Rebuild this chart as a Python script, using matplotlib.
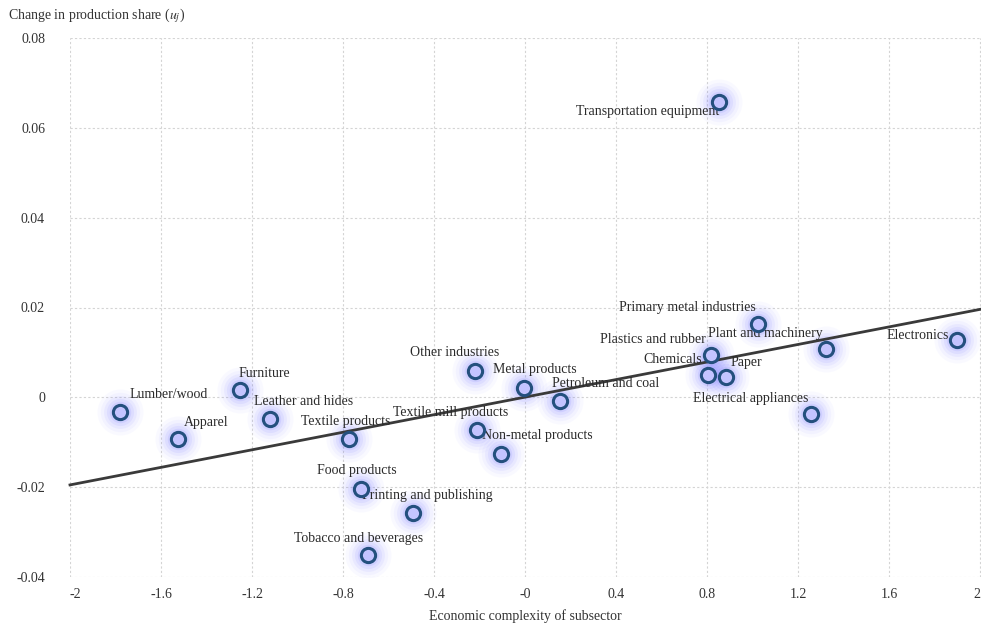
import numpy as np
import matplotlib
matplotlib.use("Agg")
import matplotlib.pyplot as plt

plt.rcParams['font.family'] = ['Liberation Serif', 'DejaVu Serif']
plt.rcParams['mathtext.fontset'] = 'stix'

# subsector: economic complexity vs change in production share
sectors = [
    "Transportation equipment", "Primary metal industries", "Plant and machinery",
    "Electronics", "Plastics and rubber", "Chemicals", "Paper",
    "Electrical appliances", "Metal products", "Petroleum and coal",
    "Other industries", "Textile mill products", "Non-metal products",
    "Textile products", "Food products", "Printing and publishing",
    "Tobacco and beverages", "Lumber/wood", "Apparel", "Furniture",
    "Leather and hides",
]
complexity = [0.853, 1.024, 1.323, 1.899, 0.818, 0.804, 0.884, 1.257, -0.004, 0.154,
              -0.220, -0.211, -0.105, -0.774, -0.721, -0.492, -0.690, -1.780, -1.525,
              -1.253, -1.121]
share_change = [0.0657, 0.0164, 0.0108, 0.0128, 0.0094, 0.0050, 0.0045, -0.0037, 0.0021,
                -0.0009, 0.0059, -0.0073, -0.0126, -0.0093, -0.0204, -0.0258, -0.0352,
                -0.0032, -0.0093, 0.0016, -0.0048]

# fitted trend line endpoints
fit_x = [-2.0, 2.0]
fit_y = [-0.0195, 0.0196]

xticks = [-2, -1.6, -1.2, -0.8, -0.4, 0, 0.4, 0.8, 1.2, 1.6, 2]
xticklabels = ["-2", "-1.6", "-1.2", "-0.8", "-0.4", "-0", "0.4", "0.8", "1.2", "1.6", "2"]
yticks = [-0.04, -0.02, 0, 0.02, 0.04, 0.06, 0.08]
yticklabels = ["-0.04", "-0.02", "0", "0.02", "0.04", "0.06", "0.08"]

# label offsets in pixels (text centre relative to the point)
label_offsets = [(-72, -9), (-71, 16), (-61, 15), (-40, 4), (-58, 16), (-35, 15), (20, 15),
                 (-61, 15), (11, 18), (45, 18), (-20, 18), (-27, 18), (36, 18), (-3, 18),
                 (-4, 18), (14, 18), (-10, 17), (49, 17), (28, 17), (24, 17), (34, 17)]

fig = plt.figure(figsize=(9.81, 6.24), dpi=100)
ax = fig.add_axes([70 / 981, 47 / 624, 911 / 981, 539 / 624])

ax.set_xlim(-2, 2.003)
ax.set_ylim(-0.04, 0.08)

ax.set_xticks(xticks)
ax.set_xticklabels(xticklabels)
ax.set_yticks(yticks)
ax.set_yticklabels(yticklabels)
ax.tick_params(length=0, labelsize=10, colors='#333333')
ax.tick_params(axis='x', pad=8)
ax.tick_params(axis='y', pad=18)
xl = ax.get_xticklabels()
xl[0].set_ha('left')
xl[-1].set_ha('right')
ax.grid(True, color='#d4d4d4', linestyle=(0, (2, 2)), linewidth=0.8)
ax.set_axisbelow(True)
for s in ax.spines.values():
    s.set_visible(False)

ax.plot(fit_x, fit_y, color='#3a3a3a', linewidth=2, zorder=3, clip_on=False)

# soft glow behind each marker
for size, alpha in [(1100, 0.035), (800, 0.05), (560, 0.07), (380, 0.09), (240, 0.12)]:
    ax.scatter(complexity, share_change, s=size, color='#7070ff', alpha=alpha,
               linewidths=0, zorder=2)
ax.scatter(complexity, share_change, s=105, facecolor='#c4c4ff', edgecolor='#24507e',
           linewidths=2.2, zorder=5)

for name, x, y, (dx, dy) in zip(sectors, complexity, share_change, label_offsets):
    ax.annotate(name, (x, y), xytext=(dx, dy), textcoords='offset pixels',
                ha='center', va='center', fontsize=10, color='#2a2a2a', zorder=4)

ax.set_xlabel("Economic complexity of subsector", fontsize=10, color='#333333', labelpad=6)
fig.text(8 / 981, 1 - 16 / 624, r"Change in production share ($\mathit{u_j}$)",
         fontsize=10, color='#333333', ha='left', va='center')

fig.savefig("out.png", dpi=100)
